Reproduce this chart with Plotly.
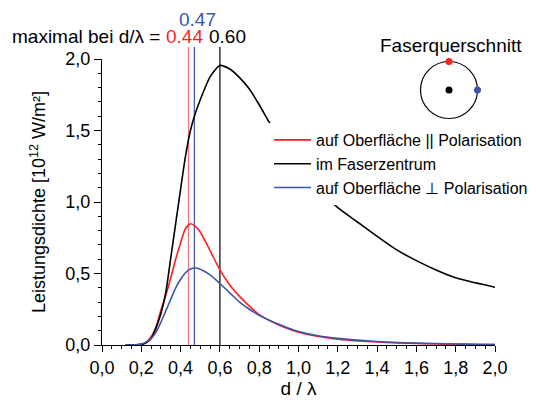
import plotly.graph_objects as go

# ---- data ----
d = [0.12, 0.15, 0.20, 0.225, 0.25, 0.275, 0.30, 0.325, 0.35, 0.375, 0.40, 0.425, 0.45, 0.475,
     0.50, 0.55, 0.60, 0.65, 0.70, 0.75, 0.80, 0.85, 0.90, 0.95, 1.00, 1.10, 1.20, 1.30, 1.40,
     1.50, 1.60, 1.70, 1.80, 1.90, 2.00]
center = [0.0, 0.0, 0.003, 0.015, 0.045, 0.12, 0.22, 0.37, 0.61, 0.85, 1.09, 1.32, 1.50, 1.62,
          1.715, 1.875, 1.955, 1.93, 1.87, 1.79, 1.68, 1.56, 1.45, 1.35, 1.26, 1.09, 0.96, 0.86, 0.76,
          0.665, 0.59, 0.525, 0.47, 0.435, 0.404]
surf_par = [0.0, 0.0, 0.005, 0.02, 0.058, 0.125, 0.245, 0.35, 0.47, 0.60, 0.715, 0.815, 0.848, 0.83,
            0.79, 0.66, 0.525, 0.42, 0.34, 0.272, 0.213, 0.173, 0.14, 0.112, 0.089, 0.059, 0.041, 0.029, 0.021,
            0.015, 0.010, 0.007, 0.005, 0.004, 0.003]
surf_perp = [0.0, 0.0, 0.008, 0.02, 0.045, 0.09, 0.16, 0.24, 0.32, 0.40, 0.46, 0.505, 0.532, 0.538,
             0.53, 0.49, 0.43, 0.365, 0.30, 0.25, 0.208, 0.174, 0.145, 0.118, 0.095, 0.065, 0.046, 0.034, 0.025,
             0.018, 0.013, 0.010, 0.007, 0.005, 0.004]
maxima = [0.44, 0.47, 0.60]
max_labels = ["0.44", "0.47", "0.60"]
names = ["auf Oberfläche || Polarisation", "im Faserzentrum", "auf Oberfläche ⊥ Polarisation"]
x_ticks = [0.0, 0.2, 0.4, 0.6, 0.8, 1.0, 1.2, 1.4, 1.6, 1.8, 2.0]
y_ticks = [0.0, 0.5, 1.0, 1.5, 2.0]

RED = "#ff1f1f"
BLACK = "#000000"
BLUE = "#3b55a8"
FONT = "Arial, Liberation Sans, sans-serif"

W, H = 536, 405
L, R, T, B = 102, 41, 59, 60
pw, ph = W - L - R, H - T - B


def px(xp):
    return (xp - L) / pw


def py(yp):
    return (H - B - yp) / ph


fig = go.Figure()
for name, ys, col in [(names[0], surf_par, RED), (names[1], center, BLACK), (names[2], surf_perp, BLUE)]:
    fig.add_trace(go.Scatter(x=d, y=ys, mode="lines", name=name,
                             line=dict(color=col, width=1.6, shape="spline", smoothing=0.6)))

# vertical marker lines at maxima
vcols = ["#f07878", BLUE, BLACK]
for xv, c in zip(maxima, vcols):
    fig.add_shape(type="line", xref="x", yref="paper", x0=xv, x1=xv, y0=0, y1=py(47),
                  line=dict(color=c, width=1.2), layer="below")

# annotations on top
fig.add_annotation(xref="paper", yref="paper", x=px(162), y=py(36), text="maximal bei d/λ =",
                   showarrow=False, xanchor="right", yanchor="middle", font=dict(size=19, color="black"))
fig.add_annotation(xref="paper", yref="paper", x=px(164), y=py(36), text=max_labels[0],
                   showarrow=False, xanchor="left", yanchor="middle", font=dict(size=19, color=RED))
fig.add_annotation(xref="paper", yref="paper", x=px(207), y=py(36), text=max_labels[2],
                   showarrow=False, xanchor="left", yanchor="middle", font=dict(size=19, color=BLACK))
fig.add_annotation(xref="paper", yref="paper", x=px(197), y=py(19), text=max_labels[1],
                   showarrow=False, xanchor="center", yanchor="middle", font=dict(size=19, color=BLUE))

# fibre cross-section inset
fig.add_annotation(xref="paper", yref="paper", x=px(451), y=py(45), text="Faserquerschnitt",
                   showarrow=False, xanchor="center", yanchor="middle", font=dict(size=19, color="black"))
cx, cy, r = px(449), py(90), 28.5
fig.add_shape(type="circle", xref="paper", yref="paper", xsizemode="pixel", ysizemode="pixel",
              xanchor=cx, yanchor=cy, x0=-r, x1=r, y0=-r, y1=r, line=dict(color="black", width=1.2))
for (dx, dy, c) in [(0, 0, BLACK), (0, r, RED), (r, 0, BLUE)]:
    fig.add_shape(type="circle", xref="paper", yref="paper", xsizemode="pixel", ysizemode="pixel",
                  xanchor=cx, yanchor=cy, x0=dx - 3.5, x1=dx + 3.5, y0=dy - 3.5, y1=dy + 3.5,
                  line=dict(width=0), fillcolor=c)

fig.update_layout(
    width=W, height=H, margin=dict(l=L, r=R, t=T, b=B, autoexpand=False),
    paper_bgcolor="white", plot_bgcolor="white",
    font=dict(family=FONT, size=18, color="black"),
    separators=",.",
    showlegend=True,
    legend=dict(x=px(269), y=py(123), xanchor="left", yanchor="top", bgcolor="white",
                font=dict(size=16), tracegroupgap=0, itemwidth=37),
    xaxis=dict(range=[0, 2.0], tickvals=x_ticks, tickformat=".1f", ticks="outside", ticklen=6,
               tickcolor="black", showline=True, linecolor="black", linewidth=1.2, showgrid=False,
               zeroline=False, automargin=False,
               minor=dict(dtick=0.05, ticks="outside", ticklen=3, tickcolor="black"),
               title=dict(text="d / λ", font=dict(size=19), standoff=1)),
    yaxis=dict(range=[0, 2.0], tickvals=y_ticks, tickformat=".1f", ticks="outside", ticklen=7,
               tickcolor="black", showline=True, linecolor="black", linewidth=1.2, showgrid=False,
               zeroline=False, automargin=False,
               minor=dict(dtick=0.1, ticks="outside", ticklen=3, tickcolor="black"),
               title=dict(text="Leistungsdichte [10<sup>12</sup> W/m²]", font=dict(size=18), standoff=14)),
)

fig.write_html("out.html")
